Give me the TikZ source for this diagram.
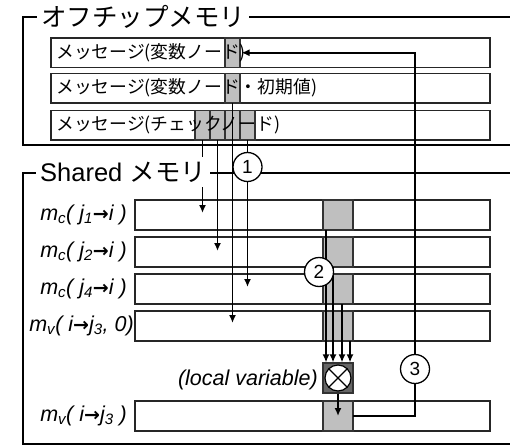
\documentclass[tikz,border=0pt]{standalone}
\usepackage{fontspec}
\setmainfont{Liberation Sans}
\newfontfamily\jp{Noto Sans CJK JP}
\newfontfamily\dv{DejaVu Sans}
\usetikzlibrary{arrows.meta}
\begin{document}
\begin{tikzpicture}[x=1pt,y=-1pt,
  frame/.style={draw=black, line width=1.1pt},
  box/.style={draw=black!85, line width=1.5pt, fill=white, anchor=north west, inner sep=0pt, outer sep=0pt, minimum height=29.5pt},
  obox/.style={box, minimum width=439pt},
  sbox/.style={box, minimum width=355pt, minimum height=30pt},
  cell/.style={draw=black!80, line width=1.2pt, fill=gray!50, anchor=north west, inner sep=0pt, outer sep=0pt, minimum width=15pt, minimum height=29.5pt},
  scell/.style={cell, minimum width=30pt, minimum height=30pt},
  jtxt/.style={anchor=west, inner sep=0pt, font=\jp\fontsize{17.8}{20}\selectfont},
  title/.style={anchor=west, fill=white, inner xsep=4pt, inner ysep=5pt, font=\fontsize{25.5}{28}\selectfont},
  lbl/.style={anchor=east, inner sep=0pt, font=\itshape\fontsize{21.5}{24}\selectfont},
  conn/.style={draw=black, line width=1.8pt},
  arr/.style={conn, -{Latex[length=8pt,width=7pt]}},
  num/.style={circle, draw=black, line width=1.3pt, fill=white, minimum size=29pt, inner sep=0pt, font=\fontsize{19}{20}\selectfont},
]
\newcommand{\rarr}{{\dv\upshape\bfseries\fontsize{19}{20}\selectfont →}}
\useasboundingbox (0,0) rectangle (510,446);
\fill[white] (0,0) rectangle (510,446);

% frames
\draw[frame] (510,17) -- (23,17) -- (23,145) -- (510,145);
\draw[frame] (510,173) -- (23,173) -- (23,444) -- (510,444);

% off-chip boxes
\node[obox] (b1) at (51,38) {};
\node[obox] (b2) at (51,73.5) {};
\node[obox] (b3) at (51,110.5) {};
\node[cell] (g1) at (225,38) {};
\node[cell] (g2) at (225,73.5) {};
\node[cell] (c1) at (195,110.5) {};
\node[cell] (c2) at (210,110.5) {};
\node[cell] (c3) at (225,110.5) {};
\node[cell] (c4) at (240,110.5) {};
\node[jtxt] (t1) at (56,52.75) {メッセージ(変数ノード)};
\node[jtxt] (t2) at (56,88.25) {メッセージ(変数ノード・初期値)};
\node[jtxt] (t3) at (56,125.25) {メッセージ(チェックノード)};

% shared rows
\node[sbox] (r1) at (135,200) {};
\node[sbox] (r2) at (135,237) {};
\node[sbox] (r3) at (135,274) {};
\node[sbox] (r4) at (135,311) {};
\node[sbox] (r5) at (135,401) {};
\node[scell] (s1) at (323,200) {};
\node[scell] (s2) at (323,237) {};
\node[scell] (s3) at (323,274) {};
\node[scell] (s4) at (323,311) {};
\node[scell] (s5) at (323,401) {};

\node[lbl] (l1) at (127,215) {m\textsubscript{c}( j\textsubscript{1}\rarr i )};
\node[lbl] (l2) at (127,252) {m\textsubscript{c}( j\textsubscript{2}\rarr i )};
\node[lbl] (l3) at (127,289) {m\textsubscript{c}( j\textsubscript{4}\rarr i )};
\node[lbl] (l4) at (134,326) {m\textsubscript{v}( i\rarr j\textsubscript{3}, 0)};
\node[lbl] (l5) at (127,416) {m\textsubscript{v}( i\rarr j\textsubscript{3} )};

% cross box
\node[draw=black!80, line width=1.2pt, fill=black!60, minimum size=30pt, inner sep=0pt] (x) at (338,378) {};
\node[circle, draw=black, line width=1.2pt, fill=white, minimum size=26pt, inner sep=0pt] (xc) at (x.center) {};
\draw[line width=1.2pt] (xc.45) -- (xc.225) (xc.135) -- (xc.315);
\node[lbl] (lv) at (318,380) {(local variable)};

% step 1 connectors
\coordinate (e1) at (202.5,213);
\coordinate (e2) at (217.5,251);
\coordinate (e3) at (247.5,287);
\coordinate (e4) at (232.5,323);
\draw[arr] (c1.south) -- (e1);
\draw[arr] (c2.south) -- (e2);
\draw[arr] (c4.south) -- (e3);
\draw[arr] (g2.south) -- (e4);

% step 2 connectors
\coordinate (a1) at (326,230);
\coordinate (a2) at (333,267);
\coordinate (a3) at (342,304);
\coordinate (a4) at (350,341);
\draw[arr] (a1) -- (a1 |- x.north);
\draw[arr] (a2) -- (a2 |- x.north);
\draw[arr] (a3) -- (a3 |- x.north);
\draw[arr] (a4) -- (a4 |- x.north);
\coordinate (e5) at (338,416);
\draw[arr] (x.south) -- (e5);

% step 3 connector
\coordinate (k) at (415,416);
\draw[arr] (s5.east) -- (k) -- (k |- g1.east) -- ([xshift=1.5pt]g1.east);

% titles
\node[title] (h1) at (37,17) {\jp オフチップメモリ};
\node[title] (h2) at (36,172) {Shared {\jp メモリ}};

% numbered circles
\node[num] (n1) at (247.5,167) {1};
\node[num] (n2) at (319,272) {2};
\node[num] (n3) at (415,369) {3};
\end{tikzpicture}
\end{document}
